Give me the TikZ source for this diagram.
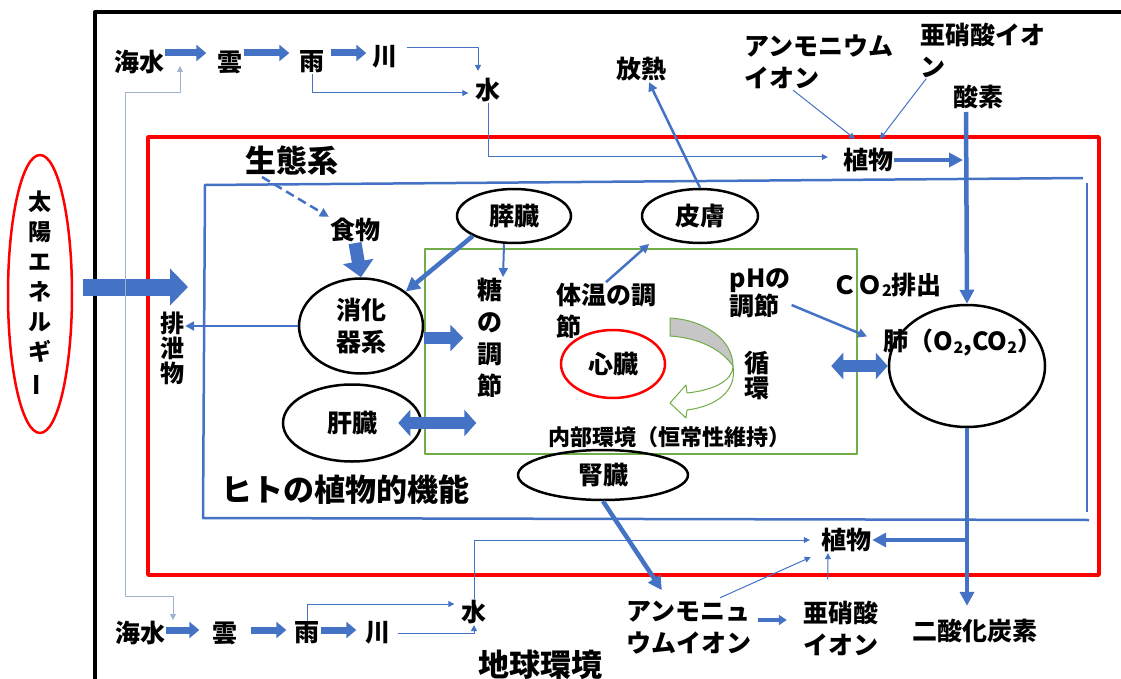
\documentclass[tikz,border=0pt]{standalone}
\usepackage{fontspec}
\setmainfont{Noto Sans CJK JP}
\usetikzlibrary{shapes,arrows.meta,positioning,calc}
\definecolor{flow}{HTML}{4472C4}
\definecolor{pale}{HTML}{9FB3D1}
\definecolor{sysred}{HTML}{FF0000}
\definecolor{inner}{HTML}{70AD47}
\newcommand\low[1]{\raisebox{-0.1em}{\fontsize{16}{16}\selectfont #1}}

\begin{document}
\begin{tikzpicture}[x=1pt, y=-1pt, line join=round]
\tikzstyle{every node}=[inner sep=1pt]
\tikzstyle{txt}=[font=\fontsize{25}{32}\selectfont\bfseries]
\tikzstyle{big}=[font=\fontsize{31}{36}\selectfont\bfseries]
\tikzstyle{tate}=[txt, align=center]
\tikzstyle{organ}=[ellipse, draw=black, line width=2.5pt, txt, align=center]
\tikzstyle{fine}=[draw=flow, line width=1pt, -{Triangle[length=6pt,width=6pt]}]
\tikzstyle{mid}=[draw=flow, line width=2.5pt, -{Triangle[length=9pt,width=9pt]}]
\tikzstyle{heavy}=[draw=flow, line width=4.5pt, -{Triangle[length=14pt,width=14pt]}]
\tikzstyle{fat}=[draw=flow, line width=7pt, -{Triangle[length=10pt,width=16pt]}]
\tikzstyle{fatboth}=[draw=flow, line width=12pt, {Triangle[length=12pt,width=26pt]}-{Triangle[length=12pt,width=26pt]}]
\useasboundingbox (0,0) rectangle (1121,679);

% frames
\draw[line width=4pt] (95,700) -- (95,12) -- (1130,12);
\draw[sysred, line width=3.5pt] (148,137) rectangle (1099,575);
\draw[flow, line width=2.5pt] (1083,178) -- (205,185) -- (203,518) -- (1089,520);
\draw[flow, line width=2.5pt] (1087,183) -- (1087,512);
\node[draw=inner, line width=2.5pt, minimum width=432, minimum height=205] (kankyo) at (641,351.5) {};

% sun
\node[ellipse, draw=sysred, line width=2.5pt, minimum width=64, minimum height=278] (taiyo) at (40,294) {};
\node[tate, font=\fontsize{23}{30}\selectfont\bfseries] (taiyotxt) at (taiyo) {太\\陽\\エ\\ネ\\ル\\ギ\\\rotatebox[origin=c]{90}{ー}};
\coordinate (sunend) at (188,287);
\draw[flow, line width=17pt, -{Triangle[length=18pt,width=36pt]}] ([xshift=10pt,yshift=7pt]taiyo.east) -- (sunend);

% water cycle, top
\node[txt] (kaisui1) at (139,62) {海水};
\node[txt] (kumo1) at (230,62) {雲};
\node[txt] (ame1) at (312,62) {雨};
\node[txt] (kawa1) at (385,57) {川};
\node[txt] (mizu1) at (488,90) {水};
\draw[fat, shorten >=10pt] ([yshift=9pt]kaisui1.east) -- ([yshift=9pt]kumo1.west);
\draw[fat, shorten >=9pt] ([yshift=9pt]kumo1.east) -- ([yshift=9pt]ame1.west);
\draw[fat, shorten <=5pt, shorten >=5pt] ([yshift=9pt]ame1.east) -- ([yshift=9pt]ame1.east -| kawa1.west);
\draw[fine, shorten <=8pt, shorten >=6pt] ([yshift=9pt]kawa1.east) -| ([xshift=-10pt]mizu1.north);
\draw[fine, shorten >=6pt] (ame1.south) |- ([yshift=-3pt]mizu1.west);

% water cycle, bottom
\node[txt] (kaisui2) at (140,633) {海水};
\node[txt] (kumo2) at (225,633) {雲};
\node[txt] (ame2) at (307,633) {雨};
\node[txt] (kawa2) at (378,633) {川};
\node[txt] (mizu2) at (474,612) {水};
\draw[fat, shorten >=12pt] ([yshift=3pt]kaisui2.east) -- ([yshift=3pt]kumo2.west);
\draw[fat, shorten <=12pt, shorten >=7pt] ([yshift=3pt]kumo2.east) -- ([yshift=3pt]ame2.west);
\draw[fat, shorten >=8pt] ([yshift=3pt]ame2.east) -- ([yshift=3pt]kawa2.west);
\draw[fine, shorten >=6pt] (ame2.north) |- ([yshift=8pt]mizu2.west);
\draw[fine, shorten <=6pt] (kawa2.east) -| (mizu2.south);

% sea water loop
\coordinate (seaup) at (180,66);
\coordinate (seadown) at (173,620);
\draw[pale, line width=1pt, {Triangle[length=6pt,width=6pt]}-{Triangle[length=6pt,width=6pt]}] (seaup) |- (125,93) -- (125,596) -| (seadown);

% plants and gases
\node[txt] (shokubutsu1) at (868,160) {植物};
\node[txt] (sanso) at (978,97) {酸素};
\coordinate (o2top) at (966,112);
\node[txt] (hounetsu) at (641,69) {放熱};
\node[txt, align=left] (anmo1) at (819,62) {アンモニウム\\イオン};
\node[txt, align=left] (aso1) at (983,50) {亜硝酸イオ\\ン};
\draw[fine, shorten >=14pt] (mizu1.south) |- ([yshift=3pt]shokubutsu1.west);
\draw[fine] ([xshift=-26pt]anmo1.south) -- ([xshift=-13pt,yshift=8pt]shokubutsu1.north);
\draw[fine] ([xshift=7pt]aso1.south west) -- ([xshift=12pt,yshift=8pt]shokubutsu1.north);

\node[ellipse, draw=black, line width=2.5pt, minimum width=156, minimum height=122] (hai) at (967,366) {};
\node[txt] (haitxt) at (963,343) {肺（O\low{2},CO\low{2}）};
\node[txt] (co2out) at (887,285) {ＣＯ\low{2}排出};
\node[txt] (nisanka) at (975,631) {二酸化炭素};
\node[txt] (shokubutsu2) at (846,540) {植物};
\draw[heavy, shorten >=3pt] (shokubutsu1.east) -- (shokubutsu1.east -| o2top);
\draw[heavy] (o2top) -- (hai.north);
\draw[heavy, shorten >=12pt] (hai.south) -- (hai.south |- nisanka.north);
\draw[heavy] (hai.south |- shokubutsu2.east) -- (shokubutsu2.east);

% ecosystem and organs
\node[big] (seitai) at (292,161) {生態系};
\node[txt] (shokumotsu) at (355,230) {食物};
\node[organ, minimum width=114, minimum height=54] (suizou) at (514,216) {膵臓};
\node[organ, minimum width=116, minimum height=54] (hifu) at (700,216) {皮膚};
\node[organ, minimum width=124, minimum height=95] (shouka) at (361,326) {消化\\器系};
\node[organ, minimum width=138, minimum height=77] (kanzou) at (352,423) {肝臓};
\node[organ, minimum width=170, minimum height=50] (jinzou) at (603,475) {腎臓};
\node[organ, draw=sysred, minimum width=104, minimum height=68] (shinzou) at (613,364) {心臓};
\node[tate, font=\fontsize{24}{25}\selectfont\bfseries] (haisetsu) at (172,348) {排\\泄\\物};
\node[tate] (tou) at (490,338) {糖\\の\\調\\節};
\node[txt, align=left] (taion) at (606,311) {体温の調\\節};
\node[txt, align=left, font=\fontsize{25}{28}\selectfont\bfseries] (ph) at (760,293) {pHの\\調節};
\node[tate, font=\fontsize{25}{25}\selectfont\bfseries] (junkan) at (757,376) {循\\環};
\node[txt, font=\fontsize{22}{26}\selectfont\bfseries] (naibu) at (669,437) {内部環境（恒常性維持）};
\node[big] (hito) at (345,490) {ヒトの植物的機能};
\node[big] (chikyu) at (540,665) {地球環境};
\node[txt, align=left] (anmo2) at (688.5,628) {アンモニュ\\ウムイオン};
\node[txt, align=left] (aso2) at (840.5,628) {亜硝酸\\イオン};

% circulation
\fill[gray!45, draw=inner, line width=1pt] (670,318) .. controls (705,320) and (733,340) .. (733,366) .. controls (722,350) and (700,338) .. (670,336) -- cycle;
\draw[inner, fill=white, line width=1pt] (733,366) .. controls (733,380) and (715,390) .. (687,393) -- (686,385) -- (670,403) -- (686,418) -- (687,410) .. controls (718,406) and (737,390) .. (733,366) -- cycle;

% connectors
\draw[mid, dash pattern=on 9pt off 5pt] ([xshift=-30pt]seitai.south) -- (shokumotsu.north west);
\draw[draw=flow, line width=13pt, -{Triangle[length=16pt,width=30pt]}] (shokumotsu.south) -- (shouka.north);
\draw[heavy] (suizou.south west) -- (shouka.north east);
\draw[mid, line width=2pt] ([xshift=-10pt]suizou.south) -- ([xshift=13pt]tou.north);
\draw[draw=flow, line width=12pt, -{Triangle[length=13pt,width=26pt]}, shorten >=13pt] (shouka.east |- tou.west) -- (tou.west);
\draw[fatboth] ([xshift=-24pt]kanzou.east) -- (tou.west |- kanzou.east);
\draw[mid] (shouka.west) -- (haisetsu.east |- shouka.west);
\draw[mid, shorten >=12pt] (taion.north) -- (hifu.south west);
\draw[mid] (hifu.north) -- ([xshift=8pt]hounetsu.south);
\draw[mid, shorten >=17pt] ([yshift=-12pt]ph.east) -- (haitxt.west);
\draw[fatboth] ([xshift=-27pt]kankyo.east |- hai.west) -- (hai.west);
\draw[heavy, shorten >=12pt] (jinzou.south) -- ([xshift=-20pt]anmo2.north);
\draw[draw=flow, line width=3.5pt, -{Triangle[length=8pt,width=10pt]}, shorten <=6pt, shorten >=15pt] ([yshift=8pt]anmo2.east) -- ([yshift=8pt]aso2.west);
\draw[fine, shorten <=6pt, shorten >=10pt] ([xshift=26pt]anmo2.north) -- (shokubutsu2.south west);
\draw[fine, shorten <=20pt] ([xshift=-13pt]aso2.north) -- ([xshift=-18pt]shokubutsu2.south);
\draw[fine, shorten >=10pt] (mizu2.north) |- (shokubutsu2.west);
\end{tikzpicture}
\end{document}
